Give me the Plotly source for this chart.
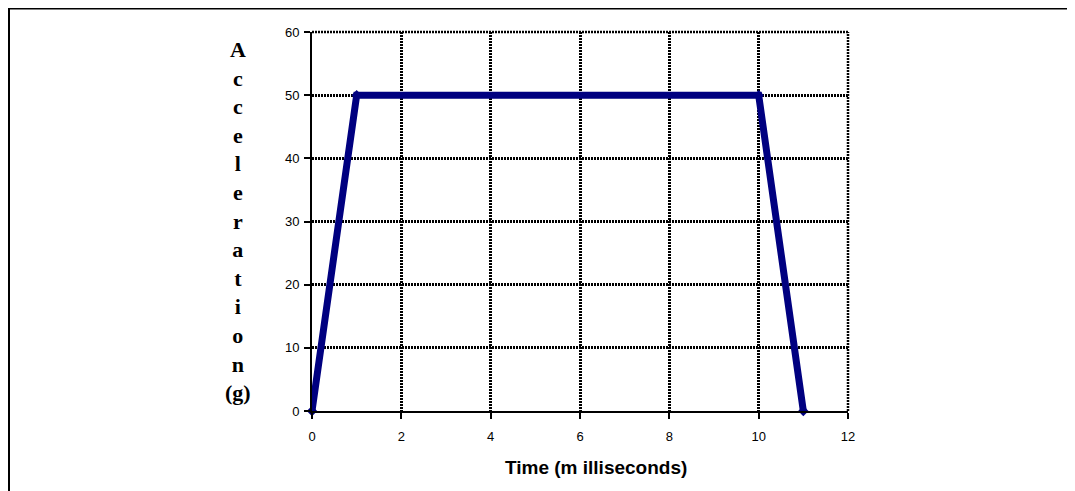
import plotly.graph_objects as go

time_ms = [0, 1, 10, 11]
accel_g = [0, 50, 50, 0]
x_ticks = [0, 2, 4, 6, 8, 10, 12]
y_ticks = [0, 10, 20, 30, 40, 50, 60]
y_title_letters = ["A", "c", "c", "e", "l", "e", "r", "a", "t", "i", "o", "n", "(g)"]
x_title = "Time (m illiseconds)"

OFF = 8  # page body margin
W, H = 1075 - OFF, 491 - OFF
L, R, T, B = 312 - OFF, 227, 32 - OFF, 80
pw, ph = W - L - R, H - T - B


def px_x(sx):
    return (sx - OFF - L) / pw


def px_y(sy):
    return (H - B - (sy - OFF)) / ph


GRID = dict(color="black", width=2.5, dash="2px,1px")

fig = go.Figure()
fig.add_trace(go.Scatter(
    x=time_ms, y=accel_g, mode="lines+markers",
    line=dict(color="#000080", width=7),
    marker=dict(symbol="diamond", size=8, color="#000080"),
    showlegend=False, cliponaxis=False,
))

axis_common = dict(
    showline=True, linecolor="black", linewidth=2,
    showgrid=True, gridcolor=GRID["color"], gridwidth=GRID["width"], griddash=GRID["dash"],
    ticks="outside", ticklen=6, tickwidth=2, tickcolor="black",
    zeroline=False, mirror=False,
    tickfont=dict(family="Liberation Sans, Arial", size=13, color="black"),
)
fig.update_xaxes(range=[0, 12], tickvals=x_ticks, ticklabelstandoff=6, **axis_common)
fig.update_yaxes(range=[0, 60], tickvals=y_ticks, ticklabelstandoff=2, **axis_common)

# dotted grid lines on the top and right edges of the plot area
fig.add_shape(type="line", xref="paper", yref="paper", x0=0, x1=1, y0=1, y1=1, line=GRID)
fig.add_shape(type="line", xref="paper", yref="paper", x0=1, x1=1, y0=0, y1=1, line=GRID)

fig.add_annotation(
    text="<br>".join("<b>" + c + "</b>" for c in y_title_letters),
    xref="paper", yref="paper",
    x=px_x(238), y=px_y(221), xanchor="center", yanchor="middle",
    showarrow=False, align="center",
    font=dict(family="Liberation Serif, Times New Roman", size=22, color="black"),
)
fig.add_annotation(
    text="<b>" + x_title + "</b>", xref="paper", yref="paper",
    x=px_x(596), y=px_y(467), xanchor="center", yanchor="middle",
    showarrow=False,
    font=dict(family="Liberation Sans, Arial", size=19, color="black"),
)
fig.add_shape(
    type="rect", xref="paper", yref="paper",
    x0=px_x(8.5), x1=px_x(1090),
    y0=px_y(500), y1=px_y(8),
    line=dict(color="black", width=3), fillcolor="rgba(0,0,0,0)", layer="below",
)

fig.update_layout(
    width=W, height=H,
    margin=dict(l=L, r=R, t=T, b=B),
    paper_bgcolor="white", plot_bgcolor="white",
)
fig.write_html("out.html")
